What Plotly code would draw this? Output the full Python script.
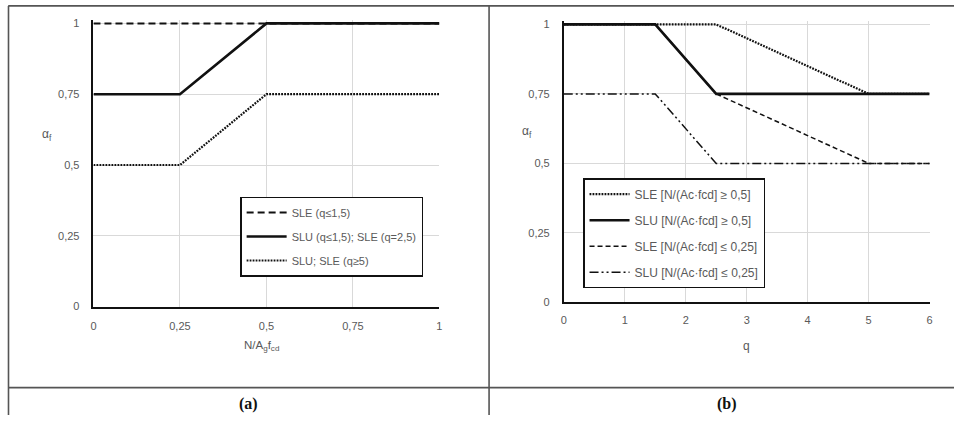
import plotly.graph_objects as go

W, H = 957, 421

# ---------------- data ----------------
# Panel (a): alpha_f vs N/(Ag fcd)
a_x = [0, 0.25, 0.5, 0.75, 1]
a_sle_q15 = [1, 1, 1, 1, 1]
a_slu_q15 = [0.75, 0.75, 1, 1, 1]
a_slu_q5 = [0.5, 0.5, 0.75, 0.75, 0.75]
a_names = ["SLE (q≤1,5)", "SLU (q≤1,5); SLE (q=2,5)", "SLU; SLE (q≥5)"]

# Panel (b): alpha_f vs q
b_q = [0, 1.5, 2.5, 5, 6]
b_sle_hi = [1, 1, 1, 0.75, 0.75]
b_slu_hi = [1, 1, 0.75, 0.75, 0.75]
b_sle_lo = [1, 1, 0.75, 0.5, 0.5]
b_slu_lo = [0.75, 0.75, 0.5, 0.5, 0.5]
b_names = ["SLE [N/(Ac·fcd] ≥ 0,5]", "SLU [N/(Ac·fcd] ≥ 0,5]",
           "SLE [N/(Ac·fcd] ≤ 0,25]", "SLU [N/(Ac·fcd] ≤ 0,25]"]

y_ticks = [0, 0.25, 0.5, 0.75, 1]
y_ticklabels = ["0", "0,25", "0,5", "0,75", "1"]
a_xticks = [0, 0.25, 0.5, 0.75, 1]
a_xticklabels = ["0", "0,25", "0,5", "0,75", "1"]
b_xticks = [0, 1, 2, 3, 4, 5, 6]
b_xticklabels = ["0", "1", "2", "3", "4", "5", "6"]

# ---------------- helpers ----------------
# small empirical correction of the page-to-photo mapping
SX, OX = 0.994, 2.8
SY, OY = 0.978, 2.6

def px(x):
    return ((x - OX) / SX) / W

def py(y):
    return 1 - ((y - OY) / SY) / H

FONT = "Liberation Sans"
GRAY = "#595959"
LINE = "#111111"

fig = go.Figure()

# Panel (a) traces
fig.add_trace(go.Scatter(x=a_x, y=a_sle_q15, mode="lines", name=a_names[0],
                         line=dict(color=LINE, width=2, dash="7px,4px"),
                         xaxis="x", yaxis="y", legend="legend", legendgroup="a1"))
fig.add_trace(go.Scatter(x=a_x, y=a_slu_q15, mode="lines", name=a_names[1],
                         line=dict(color=LINE, width=2.6),
                         xaxis="x", yaxis="y", legend="legend", legendgroup="a2"))
fig.add_trace(go.Scatter(x=a_x, y=a_slu_q5, mode="lines", name=a_names[2],
                         line=dict(color=LINE, width=2.2, dash="1.8px,1.2px"),
                         xaxis="x", yaxis="y", legend="legend", legendgroup="a3"))

# Panel (b) traces
fig.add_trace(go.Scatter(x=b_q, y=b_sle_hi, mode="lines", name=b_names[0],
                         line=dict(color=LINE, width=2.2, dash="1.8px,1.2px"),
                         xaxis="x2", yaxis="y2", legend="legend2", legendgroup="b1"))
fig.add_trace(go.Scatter(x=b_q, y=b_slu_hi, mode="lines", name=b_names[1],
                         line=dict(color=LINE, width=2.6),
                         xaxis="x2", yaxis="y2", legend="legend2", legendgroup="b2"))
fig.add_trace(go.Scatter(x=b_q, y=b_sle_lo, mode="lines", name=b_names[2],
                         line=dict(color=LINE, width=1.5, dash="5px,3px"),
                         xaxis="x2", yaxis="y2", legend="legend2", legendgroup="b3"))
fig.add_trace(go.Scatter(x=b_q, y=b_slu_lo, mode="lines", name=b_names[3],
                         line=dict(color=LINE, width=1.5, dash="9px,3px,2px,3px,2px,3px"),
                         xaxis="x2", yaxis="y2", legend="legend2", legendgroup="b4"))

tickfont = dict(family=FONT, size=11, color=GRAY)

def xax(domain, rng, tv, tt, anchor, standoff):
    return dict(domain=domain, range=rng, tickvals=tv, ticktext=tt,
                showgrid=True, gridcolor="#d9d9d9", gridwidth=1,
                showline=True, linecolor="#111", linewidth=1.6,
                zeroline=False, ticks="", tickfont=tickfont,
                ticklabelstandoff=standoff, anchor=anchor, fixedrange=True)

def yax(domain, rng, anchor):
    return dict(domain=domain, range=rng, tickvals=y_ticks, ticktext=y_ticklabels,
                showgrid=True, gridcolor="#d9d9d9", gridwidth=1,
                showline=True, linecolor="#111", linewidth=1.6,
                zeroline=False, ticks="", tickfont=tickfont,
                ticklabelstandoff=10, anchor=anchor, fixedrange=True)

# pixel geometry of plot areas (target positions in the picture)
a_left, a_right, a_bot, a_top1 = 93.3, 439.3, 306.0, 23.0
b_left, b_right, b_bot, b_top1 = 563.7, 929.7, 301.8, 24.0
ymax = 1.012
a_top = a_bot - (a_bot - a_top1) * ymax
b_top = b_bot - (b_bot - b_top1) * ymax

legend_common = dict(
    bgcolor="white", bordercolor="#111", borderwidth=1.5,
    xanchor="left", yanchor="top", traceorder="grouped",
    itemwidth=40,
)

def ann(x, y, text, font):
    return dict(x=px(x), y=py(y), xref="paper", yref="paper", text=text,
                xanchor="center", yanchor="middle", showarrow=False, font=font)

lab_font = dict(family=FONT, size=12, color=GRAY)
cap_font = dict(family="Liberation Serif", size=16, color="#111")
annotations = [
    ann(47, 135, "α<sub>f</sub>", lab_font),
    ann(261, 345, "N/A<sub>g</sub>f<sub>cd</sub>", dict(family=FONT, size=11.5, color=GRAY)),
    ann(527, 132, "α<sub>f</sub>", lab_font),
    ann(747, 345, "q", lab_font),
    ann(248, 403, "<b>(a)</b>", cap_font),
    ann(727, 403, "<b>(b)</b>", cap_font),
]

border = dict(color="#555", width=1.6)
shapes = [
    dict(type="line", xref="paper", yref="paper", x0=px(8), x1=1, y0=py(5.5), y1=py(5.5), line=border),
    dict(type="line", xref="paper", yref="paper", x0=px(8), x1=1, y0=py(387), y1=py(387), line=border),
    dict(type="line", xref="paper", yref="paper", x0=px(8.3), x1=px(8.3), y0=py(5.5), y1=0, line=border),
    dict(type="line", xref="paper", yref="paper", x0=px(489), x1=px(489), y0=py(5.5), y1=0, line=border),
]

fig.update_layout(
    width=W, height=H,
    margin=dict(l=0, r=0, t=0, b=0),
    paper_bgcolor="white", plot_bgcolor="white",
    xaxis=xax([px(a_left), px(a_right)], [0, 1], a_xticks, a_xticklabels, "y", 8),
    yaxis=yax([py(a_bot), py(a_top)], [0, ymax], "x"),
    xaxis2=xax([px(b_left), px(b_right)], [0, 6], b_xticks, b_xticklabels, "y2", 7),
    yaxis2=yax([py(b_bot), py(b_top)], [0, ymax], "x2"),
    legend=dict(x=px(240), y=py(196), tracegroupgap=5,
                font=dict(family=FONT, size=11, color=GRAY), **legend_common),
    legend2=dict(x=px(583), y=py(177.7), tracegroupgap=7,
                 font=dict(family=FONT, size=12, color=GRAY), **legend_common),
    annotations=annotations,
    shapes=shapes,
    showlegend=True,
)

fig.write_html(
    "out.html",
    config={"displayModeBar": False},
    post_script="document.body.style.margin='0px';document.body.style.overflow='hidden';",
)
